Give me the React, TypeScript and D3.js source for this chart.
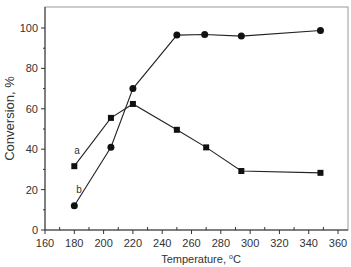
import React from "react";
import * as d3 from "d3";

const tempsA = [180, 205, 220, 250, 270, 294, 348];
const valuesA = [31.6, 55.5, 62.4, 49.6, 40.9, 29.2, 28.3];
const tempsB = [180, 205, 220, 250, 269, 294, 348];
const valuesB = [12, 41, 70, 96.5, 96.8, 96.0, 98.8];
const xTicks = [160, 180, 200, 220, 240, 260, 280, 300, 320, 340, 360];
const yTicks = [0, 20, 40, 60, 80, 100];

const W = 351, H = 267;
const L = 45, R = 348, T = 7, B = 230;

export default function App() {
  const x = d3.scaleLinear().domain([160, 366.8]).range([L, R]);
  const y = d3.scaleLinear().domain([0, 110.4]).range([B, T]);
  const line = d3.line<[number, number]>().x(d => x(d[0])).y(d => y(d[1]));
  const dA = tempsA.map((t, i) => [t, valuesA[i]] as [number, number]);
  const dB = tempsB.map((t, i) => [t, valuesB[i]] as [number, number]);
  const xMinor = d3.range(170, 370, 20);
  const yMinor = d3.range(10, 110, 20);
  const font = "Liberation Sans, Arial, sans-serif";
  return (
    <svg width={W} height={H} style={{ position: "absolute", left: 0, top: 0, background: "#fff" }}>
      <rect x={L} y={T} width={R - L} height={B - T} fill="none" stroke="#999" strokeWidth={1} />
      <line x1={L} x2={R} y1={B} y2={B} stroke="#333" />
      <line x1={L} x2={L} y1={T} y2={B} stroke="#333" />
      {xTicks.map(t => (
        <g key={"xt" + t}>
          <line x1={x(t)} x2={x(t)} y1={B} y2={B + 4} stroke="#333" />
          <text x={x(t)} y={B + 17} textAnchor="middle" fontSize={11} fill="#333" fontFamily={font}>{t}</text>
        </g>
      ))}
      {xMinor.map(t => (
        <line key={"xm" + t} x1={x(t)} x2={x(t)} y1={B} y2={B - 3} stroke="#333" />
      ))}
      {yTicks.map(t => (
        <g key={"yt" + t}>
          <line x1={L - 4} x2={L} y1={y(t)} y2={y(t)} stroke="#333" />
          <text x={L - 7} y={y(t) + 4} textAnchor="end" fontSize={11} fill="#333" fontFamily={font}>{t}</text>
        </g>
      ))}
      {yMinor.map(t => (
        <line key={"ym" + t} x1={L - 2} x2={L} y1={y(t)} y2={y(t)} stroke="#333" />
      ))}
      <path d={line(dA) || ""} fill="none" stroke="#222" strokeWidth={1.1} />
      <path d={line(dB) || ""} fill="none" stroke="#222" strokeWidth={1.1} />
      {dA.map((d, i) => (
        <rect key={"a" + i} x={x(d[0]) - 3} y={y(d[1]) - 3} width={6} height={6} fill="#111" />
      ))}
      {dB.map((d, i) => (
        <circle key={"b" + i} cx={x(d[0])} cy={y(d[1])} r={3.5} fill="#111" />
      ))}
      <text x={77} y={154} textAnchor="middle" fontSize={10} fill="#333" fontFamily={font}>a</text>
      <text x={79} y={193} textAnchor="middle" fontSize={10} fill="#333" fontFamily={font}>b</text>
      <text transform={`translate(14,${(T + B) / 2}) rotate(-90)`} textAnchor="middle" fontSize={13} fill="#333" fontFamily={font}>Conversion, %</text>
      <text x={201} y={263} textAnchor="middle" fontSize={11} fill="#333" fontFamily={font}>
        Temperature, <tspan dy={-4} fontSize={7}>o</tspan><tspan dy={4}>C</tspan>
      </text>
    </svg>
  );
}
